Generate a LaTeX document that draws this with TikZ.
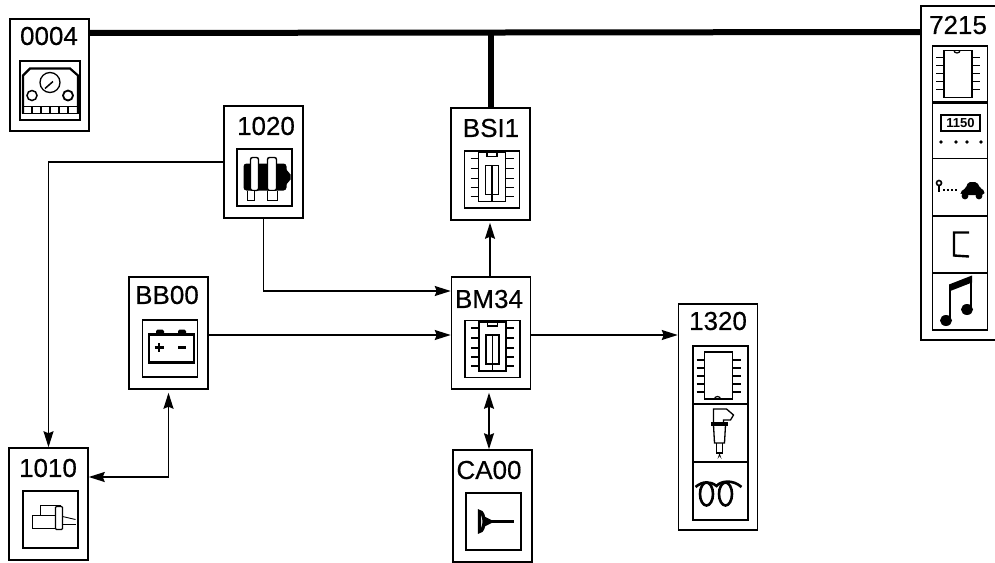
\documentclass[tikz,border=0pt]{standalone}
\usepackage{fontspec}
\setmainfont{Liberation Sans}
\usetikzlibrary{arrows.meta}

\tikzset{
	unitbox/.style={draw, line width=1.5pt, inner sep=0pt, minimum width=79pt, minimum height=112pt},
	iconbox/.style={draw, line width=1.6pt, inner sep=0pt, minimum width=55pt, minimum height=57pt},
	unitlabel/.style={inner sep=0pt, font=\fontsize{26}{26}\selectfont\addfontfeature{FakeBold=0.4}},
	link/.style={line width=1.5pt},
	buslink/.style={line width=6pt},
	chipfuse/.pic={
		\draw[line width=1.4pt] (-13.5,-27) rectangle (13.5,22);
		\draw[line width=1.4pt] (-5,-27) -- (-5,-23) -- (5,-23) -- (5,-27);
		\draw[line width=1.4pt] (-6.5,-14) rectangle (6.5,15);
		\draw[line width=1.4pt] (0,-14) -- (0,22);
		\foreach \y in {-21,-11,-1,8,17} {
			\draw[line width=1.1pt] (-21.5,\y) -- (-13.5,\y);
			\draw[line width=1.1pt] (13.5,\y) -- (21.5,\y);
		}
	},
	chipplain/.pic={
		\draw[line width=1.4pt] (-16,-24) rectangle (12,23);
		\draw[line width=1.2pt] (-6,-24) arc (180:0:3 and 2.5);
		\foreach \y in {-17,-9,-1,7,15} {
			\draw[line width=1.1pt] (-24,\y) -- (-16,\y);
			\draw[line width=1.1pt] (12,\y) -- (20,\y);
		}
	},
	gaugeicon/.pic={
		\draw[line width=2.2pt] (-27,23) -- (-27,-15) -- (-20,-22) -- (20,-22) -- (28,-15) -- (28,23);
		\draw[line width=1.3pt] (0,-8) circle (10);
		\draw[line width=1.5pt] (-5,-2) -- (3,-9);
		\draw[line width=1.5pt] (-18,5) circle (5);
		\draw[line width=1.8pt] (18,5) circle (5);
		\draw[line width=1.5pt] (-27,16) rectangle (28,23);
		\foreach \x in {-18,-9,0,9,18} {
			\draw[line width=1.3pt] (\x,16) -- (\x,23);
		}
	},
	alternatoricon/.pic={
		\fill[rounded corners=3pt] (-21,-14) rectangle (22,13);
		\fill (21,-9) -- (26,-3) -- (26,2) -- (21,8) -- cycle;
		\draw[line width=1.4pt, fill=white, rounded corners=2pt] (-14,-20) rectangle (-6,13);
		\draw[line width=1.4pt, fill=white, rounded corners=2pt] (3,-20) rectangle (12,13);
		\draw[line width=1.4pt, fill=white] (-17,13) -- (-17,23) -- (-10,23) -- (-10,13);
		\draw[line width=1.4pt, fill=white] (3,13) -- (3,23) -- (13,23) -- (13,13);
	},
	batteryicon/.pic={
		\draw[line width=2.6pt] (-21,-14) rectangle (24,14);
		\fill[rounded corners=1.5pt] (-14,-14) rectangle (-6,-19);
		\fill[rounded corners=1.5pt] (8,-14) rectangle (16,-19);
		\draw[line width=2.2pt] (-15.5,-1) -- (-6.5,-1);
		\draw[line width=2.2pt] (-11,-5.5) -- (-11,3.5);
		\draw[line width=2.2pt] (8,-1) -- (16,-1);
	},
	startericon/.pic={
		\draw[line width=1.4pt] (-18,-4) rectangle (5,9);
		\draw[line width=1.4pt] (-10,-4) -- (-10,-14) -- (10,-14) -- (10,-13);
		\draw[line width=1.4pt, rounded corners=1pt] (5,-13) rectangle (12,10);
		\draw[line width=0.9pt] (12,-3) -- (25,0);
		\draw[line width=0.9pt] (12,5) -- (25,5);
	},
	keyicon/.pic={
		\draw[line width=3.2pt] (-14,-10) .. controls (-8,-10) and (-8,10) .. (-14,10) -- cycle;
		\fill (-9,-5) -- (-2,-1.5) -- (-2,1.5) -- (-9,5) -- cycle;
		\draw[line width=3pt] (-4,0) -- (20,0);
	},
	injectoricon/.pic={
		\draw[line width=1.3pt] (-7,-17) -- (-7,-9) (3,-9) -- (3,-13) -- (10,-13) -- (13,-18) -- (6,-24) -- (-7,-24) -- (-7,-17);
		\draw[line width=2pt] (-9,-10) rectangle (6,-8);
		\draw[line width=1.3pt] (-7,-8) -- (-6,10) -- (4,10) -- (5,-8);
		\draw[line width=1.3pt] (-4,10) -- (-4,20) -- (2,20) -- (2,10);
		\fill (-3,26) -- (-1,20) -- (1,26) -- (-1,23) -- cycle;
	},
	coilicon/.pic={
		\draw[line width=2.6pt] (-14,3) ellipse (6.5 and 11.5);
		\draw[line width=2.6pt] (5,3) ellipse (6.5 and 11.5);
		\draw[line width=2.6pt] (-25,-4) .. controls (-18,-10) and (-10,-10) .. (-4,-5) .. controls (0,-10) and (12,-12) .. (21,-4);
	},
	clockicon/.pic={
		\draw[line width=1.8pt] (-19,-15) rectangle (20,1);
		\foreach \x in {-19,-4,7,21} {
			\fill (\x,12) circle (1.8);
		}
	},
	cardooricon/.pic={
		\draw[line width=1.6pt] (-21,-4) circle (2.5);
		\draw[line width=1.6pt] (-21,-2) -- (-21,5);
		\draw[line width=1.2pt, dash pattern=on 2pt off 2pt] (-17,3) -- (-3,3);
		\fill[rounded corners=2pt] (0,5) -- (6,1) -- (8,-5) -- (17,-5) -- (20,1) -- (25,4) -- (24,8) -- (1,8) -- cycle;
		\fill (5,9) circle (3.4);
		\fill (19,9) circle (3.4);
	},
	bracketicon/.pic={
		\draw[line width=2.4pt] (9,-12) -- (-6,-12) -- (-6,11) -- (9,12);
	},
	noteicon/.pic={
		\fill (-14,19) ellipse (6 and 5.5);
		\fill (7,8) ellipse (6 and 5.5);
		\draw[line width=2.2pt] (-10,19) -- (-10,-15);
		\draw[line width=2.2pt] (11,8) -- (11,-24);
		\fill (-11,-17) -- (12,-26) -- (12,-19) -- (-11,-10) -- cycle;
	}
}

\begin{document}
\begin{tikzpicture}[x=1pt, y=-1pt, >={Stealth[length=16pt, width=10pt, inset=2pt]}]
	\useasboundingbox (0,0) rectangle (995,562);
	
	% Units
	\node[unitbox] (n0004) at (49.5,75) {};
	\node[unitbox] (n1020) at (263.5,162) {};
	\node[unitbox] (nBSI1) at (490.5,164) {};
	\node[unitbox] (nBM34) at (491,333) {};
	\node[unitbox] (nBB00) at (168.5,333) {};
	\node[unitbox] (n1010) at (48.5,504) {};
	\node[unitbox] (nCA00) at (492.5,506) {};
	\node[unitbox, minimum height=226pt] (n1320) at (718,417) {};
	\node[unitbox, minimum height=334pt] (n7215) at (960.5,173) {};
	
	% Unit labels
	\node[unitlabel] (l0004) at (49,36) {0004};
	\node[unitlabel] (l1020) at (266,126) {1020};
	\node[unitlabel] (lBSI1) at (491,128) {BSI1};
	\node[unitlabel] (lBM34) at (489,299) {BM34};
	\node[unitlabel] (lBB00) at (167,295) {BB00};
	\node[unitlabel] (l1010) at (48,468) {1010};
	\node[unitlabel] (lCA00) at (489,470) {CA00};
	\node[unitlabel] (l1320) at (718,321) {1320};
	\node[unitlabel] (l7215) at (958,25) {7215};
	
	% Icon boxes
	\node[iconbox, minimum width=60pt, minimum height=59pt] (i0004) at (50,90.5) {};
	\node[iconbox] (i1020) at (264.5,177.5) {};
	\node[iconbox] (iBSI1) at (492,179.5) {};
	\node[iconbox] (iBM34) at (492.5,349) {};
	\node[iconbox] (iBB00) at (170,348.5) {};
	\node[iconbox] (i1010) at (50.5,519.5) {};
	\node[iconbox] (iCA00) at (493.5,521.5) {};
	\node[iconbox, minimum height=58pt] (i1320a) at (720.5,375) {};
	\node[iconbox, minimum height=58pt] (i1320b) at (720.5,433) {};
	\node[iconbox, minimum height=58pt] (i1320c) at (720.5,491) {};
	\node[iconbox] (i7215a) at (960,74.5) {};
	\node[iconbox] (i7215b) at (960,130) {};
	\node[iconbox] (i7215c) at (960,187) {};
	\node[iconbox] (i7215d) at (960,244.5) {};
	\node[iconbox] (i7215e) at (960,301.5) {};
	
	% Icons
	\pic at (i0004) {gaugeicon};
	\pic at (i1020) {alternatoricon};
	\pic at (iBSI1) {chipfuse};
	\pic at (iBM34) {chipfuse};
	\pic at (iBB00) {batteryicon};
	\pic at (i1010) {startericon};
	\pic at (iCA00) {keyicon};
	\pic[yscale=-1] at (i1320a) {chipplain};
	\pic at (i1320b) {injectoricon};
	\pic at (i1320c) {coilicon};
	\pic at (i7215a) {chipplain};
	\pic at (i7215b) {clockicon};
	\node[inner sep=0pt, font=\bfseries\fontsize{13}{13}\selectfont] (clock) at (960.5,123) {1150};
	\pic at (i7215c) {cardooricon};
	\pic at (i7215d) {bracketicon};
	\pic at (i7215e) {noteicon};
	
	% Bus
	\coordinate (busL) at ([yshift=42pt]n0004.east);
	\coordinate (busR) at ([yshift=141pt]n7215.west);
	\draw[buslink] (busL) -- (busR);
	\draw[buslink] (nBSI1.north) -- (nBSI1.north |- busL);
	
	% Links
	\draw[link, ->] (n1020.west) -| (n1010.north);
	\draw[link, ->] (n1020.south) |- ([yshift=42pt]nBM34.west);
	\draw[link, ->] ([yshift=-2pt]nBB00.east) -- ([yshift=-2pt]nBM34.west);
	\draw[link, ->] ([yshift=-2pt]nBM34.east) -- ([yshift=-2pt]nBM34.east -| n1320.west);
	\draw[link, ->, shorten >=2pt] ([xshift=-1pt]nBM34.north) -- ([xshift=-0.5pt]nBSI1.south);
	\draw[link, <->, shorten <=3pt] ([xshift=-2pt]nBM34.south) -- ([xshift=-3.5pt]nCA00.north);
	\draw[link, <->, shorten <=3pt] (nBB00.south) |- ([yshift=27pt]n1010.east);
\end{tikzpicture}
\end{document}
